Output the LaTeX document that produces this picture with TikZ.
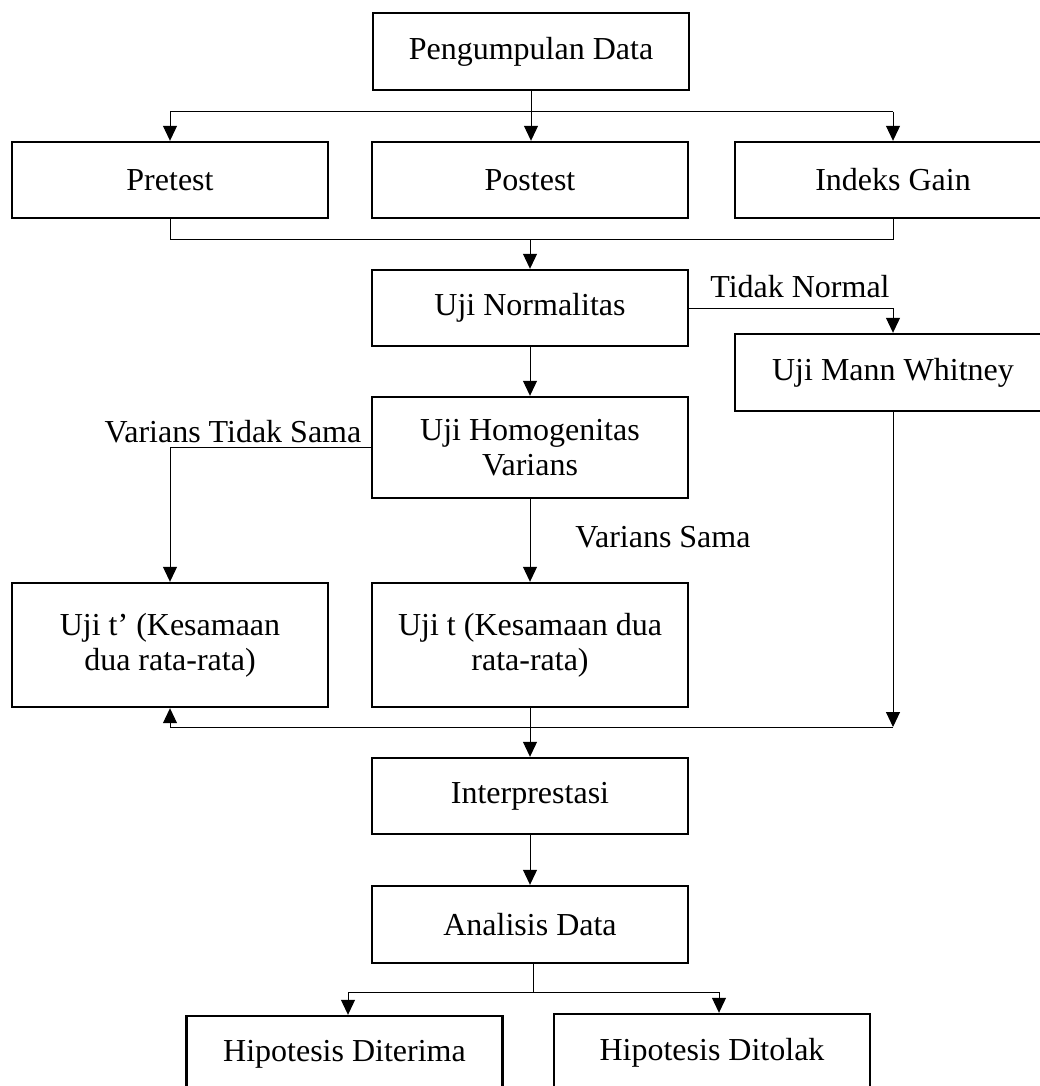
\documentclass[tikz,border=0pt]{standalone}
\usepackage{fontspec}
\setmainfont{Liberation Serif}
\usetikzlibrary{arrows.meta}
\begin{document}
\begin{tikzpicture}[x=0.5pt,y=-0.5pt,
  box/.style={draw, line width=1.2pt, minimum width=158pt, inner sep=0pt, align=center,
    font=\fontsize{16}{17.5}\selectfont},
  lbl/.style={inner sep=0pt, font=\fontsize{16}{17.5}\selectfont},
  conn/.style={line width=0.5pt},
  arr/.style={conn, -{Triangle[length=7.5pt,width=7pt]}}]
\useasboundingbox (0,0) rectangle (1039,1086);
% boxes
\node[box, minimum height=38.5pt] (A) at (531,51.5) {Pengumpulan Data};
\node[box, minimum height=38pt] (B) at (170,180) {Pretest};
\node[box, minimum height=38pt] (C) at (530,180) {Postest};
\node[box, minimum height=38pt] (D) at (893,180) {Indeks Gain};
\node[box, minimum height=38pt] (E) at (530,308) {Uji Normalitas};
\node[box, minimum height=38.5pt] (F) at (893,372.5) {Uji Mann Whitney};
\node[box, minimum height=50.5pt] (G) at (530,447.5) {Uji Homogenitas\\Varians};
\node[box, minimum height=62pt] (H) at (170,645) {Uji t’ (Kesamaan\\dua rata-rata)};
\node[box, minimum height=62pt] (I) at (530,645) {Uji t (Kesamaan dua\\rata-rata)};
\node[box, minimum height=38pt] (J) at (530,796) {Interprestasi};
\node[box, minimum height=38.5pt] (K) at (530,924.5) {Analisis Data};
\node[box, minimum height=38.5pt] (L) at (344.5,1054.5) {Hipotesis Diterima};
\node[box, minimum height=38.5pt] (M) at (712,1052.5) {Hipotesis Ditolak};
% labels
\node[lbl] (tn) at (800,287) {Tidak Normal};
\node[lbl] (vts) at (233,432) {Varians Tidak Sama};
\node[lbl] (vs) at (663,537) {Varians Sama};
% coordinates
\coordinate (s1) at (531,112);
\coordinate (j) at (530,239);
\coordinate (m) at (893,727);
\coordinate (k) at (533,992);
\coordinate (kL) at (348,992);
\coordinate (kM) at (719,992);
% connectors top
\draw[arr] (A.south) -- (A.south |- C.north);
\draw[conn] (s1 -| B.north) -- (s1 -| D.north);
\draw[arr] (s1 -| B.north) -- (B.north);
\draw[arr] (s1 -| D.north) -- (D.north);
\draw[conn] (B.south) |- (j);
\draw[conn] (D.south) |- (j);
\draw[arr] (j) -- (E.north);
% normalitas
\draw[arr] (E.east) -| (F.north);
\draw[arr] (E.south) -- (G.north);
\draw[arr] (G.west) -| (H.north);
\draw[arr] (G.south) -- (I.north);
% bottom merge
\draw[arr] (F.south) -- (m);
\draw[conn] (m) -- (m -| H.south);
\draw[arr] (m -| H.south) -- (H.south);
\draw[arr] (I.south) -- (J.north);
\draw[arr] (J.south) -- (K.north);
\draw[conn] (K.south -| k) -- (k);
\draw[conn] (kL) -- (kM);
\draw[arr] (kL) -- (kL |- L.north);
\draw[arr] (kM) -- (kM |- M.north);
\end{tikzpicture}
\end{document}
